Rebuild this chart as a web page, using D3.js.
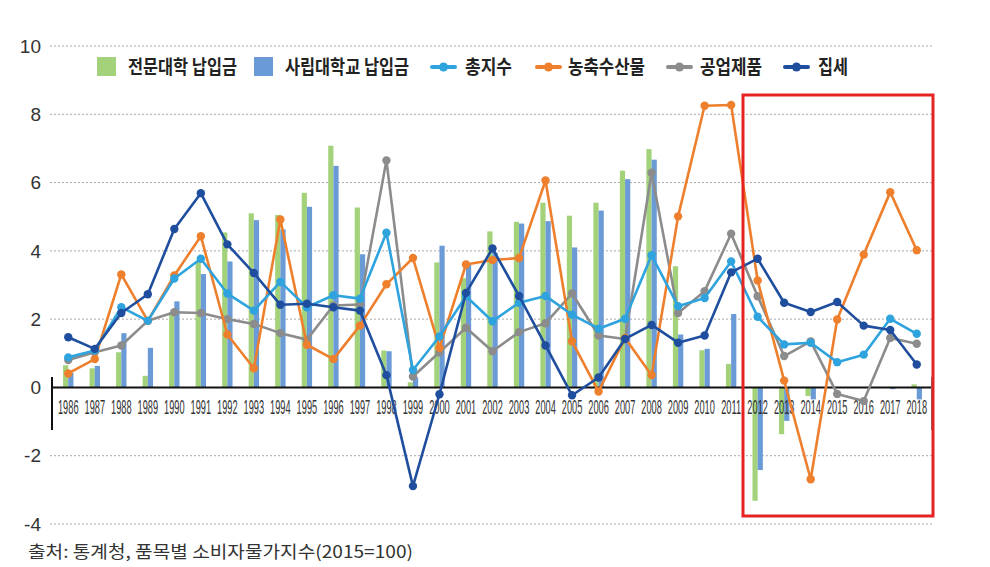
<!DOCTYPE html>
<html><head><meta charset="utf-8">
<script src="https://cdn.jsdelivr.net/npm/d3@7"></script>
<style>body{margin:0;background:#fff}svg{display:block}</style>
</head><body>
<svg id="c" width="990" height="567"></svg>
<script>
const years = d3.range(1986, 2019).map(String);
const yTicks = [-4, -2, 0, 2, 4, 6, 8, 10];
const barNames = ["전문대학 납입금", "사립대학교 납입금"];
const lineNames = ["총지수", "농축수산물", "공업제품", "집세"];
const college = [0.65,0.56,1.03,0.34,2.2,3.69,4.54,5.1,5.05,5.7,7.08,5.27,1.08,0.15,3.66,3.2,4.57,4.85,5.41,5.03,5.41,6.35,6.98,3.55,1.09,0.69,-3.32,-1.37,-0.25,0,0,0,0.09];
const univ = [0.43,0.63,1.59,1.16,2.52,3.32,3.69,4.9,4.63,5.29,6.49,3.9,1.06,0.3,4.15,3.6,3.95,4.8,4.87,4.1,5.18,6.1,6.67,1.55,1.13,2.15,-2.42,-0.98,-0.35,0,0,-0.05,-0.35];
const total = [0.88,1.08,2.35,1.95,3.19,3.77,2.75,2.25,3.09,2.35,2.7,2.6,4.53,0.51,1.49,2.67,1.94,2.48,2.68,2.13,1.72,2.01,3.87,2.38,2.62,3.69,2.07,1.26,1.31,0.74,0.96,2.01,1.57];
const agri = [0.41,0.83,3.31,1.95,3.28,4.43,1.55,0.56,4.92,1.25,0.83,1.81,3.02,3.79,1.16,3.6,3.73,3.79,6.06,1.35,-0.12,1.45,0.36,5.01,8.25,8.27,3.13,0.2,-2.69,1.99,3.89,5.72,4.02];
const industry = [0.8,1.03,1.23,1.95,2.2,2.18,2.0,1.86,1.59,1.4,2.4,2.43,6.65,0.32,1.03,1.75,1.06,1.62,1.88,2.75,1.52,1.42,6.29,2.18,2.82,4.5,2.67,0.92,1.35,-0.19,-0.4,1.45,1.28];
const rent = [1.47,1.13,2.18,2.73,4.64,5.69,4.19,3.35,2.42,2.45,2.35,2.25,0.36,-2.89,-0.2,2.77,4.07,2.68,1.23,-0.23,0.29,1.42,1.83,1.31,1.52,3.37,3.77,2.48,2.21,2.5,1.81,1.68,0.67];
const sourceText = "출처: 통계청, 품목별 소비자물가지수(2015=100)";

const barColors = ["#a3d27a", "#6b9bd6"];
const lineColors = ["#2ea3de", "#ee7f2d", "#8c8c8c", "#1f4e9e"];

const svg = d3.select("#c");
const x = d3.scaleBand().domain(years).range([55, 930]).padding(0);
const y = d3.scaleLinear().domain([-4, 10]).range([524, 46]);
const kfont = "'Noto Sans CJK KR', 'Noto Sans', sans-serif";
const cx = d => x(d) + x.bandwidth() / 2;

// gridlines
svg.append("g").selectAll("line").data(yTicks.filter(d => d !== 0)).join("line")
  .attr("x1", 50).attr("x2", 934)
  .attr("y1", d => y(d)).attr("y2", d => y(d))
  .attr("stroke", "#a8a8a8").attr("stroke-width", 1).attr("stroke-dasharray", "2,2");

// y tick labels
svg.append("g").selectAll("text").data(yTicks).join("text")
  .attr("x", 41).attr("y", d => y(d)).attr("dy", "0.35em")
  .attr("text-anchor", "end")
  .attr("font-family", "'Liberation Sans', Arial, sans-serif")
  .attr("font-size", 19).attr("fill", "#333")
  .text(d => d);

// bars
const barData = [college, univ];
const bw = 5.2;
barData.forEach((arr, i) => {
  svg.append("g").selectAll("rect").data(arr.map((v, j) => ({v, yr: years[j]}))).join("rect")
    .attr("x", d => cx(d.yr) - bw + i * bw)
    .attr("width", bw)
    .attr("y", d => Math.min(y(d.v), y(0)))
    .attr("height", d => Math.abs(y(d.v) - y(0)))
    .attr("fill", barColors[i]);
});

// x axis
svg.append("line").attr("x1", 52).attr("x2", 932).attr("y1", y(0)).attr("y2", y(0))
  .attr("stroke", "#111").attr("stroke-width", 2);
svg.append("line").attr("x1", 52).attr("x2", 52).attr("y1", 377).attr("y2", 430)
  .attr("stroke", "#111").attr("stroke-width", 2);
svg.append("line").attr("x1", 932).attr("x2", 932).attr("y1", 377).attr("y2", 430)
  .attr("stroke", "#777").attr("stroke-width", 2);
svg.append("g").selectAll("text").data(years).join("text")
  .attr("transform", d => `translate(${cx(d)},407) scale(0.44,1)`)
  .attr("dy", "0.35em")
  .attr("text-anchor", "middle")
  .attr("font-family", "'Liberation Sans', Arial, sans-serif")
  .attr("font-size", 21).attr("fill", "#333")
  .text(d => d);

// lines
const lineData = [total, agri, industry, rent];
const lineGen = d3.line().x((d, j) => cx(years[j])).y(d => y(d));
const drawOrder = [2, 1, 0, 3];
drawOrder.forEach(i => {
  const g = svg.append("g");
  g.append("path").datum(lineData[i]).attr("d", lineGen)
    .attr("fill", "none").attr("stroke", lineColors[i]).attr("stroke-width", 2.6)
    .attr("stroke-linejoin", "round");
  g.selectAll("circle").data(lineData[i]).join("circle")
    .attr("cx", (d, j) => cx(years[j])).attr("cy", d => y(d))
    .attr("r", 4.2).attr("fill", lineColors[i]);
});

// legend
const leg = svg.append("g");
const barLeg = [{sx: 97, tx: 128, tl: 109}, {sx: 254, tx: 285, tl: 124}];
barLeg.forEach((p, i) => {
  leg.append("rect").attr("x", p.sx).attr("y", 57).attr("width", 19).attr("height", 19).attr("fill", barColors[i]);
  leg.append("text").attr("x", p.tx).attr("y", 67).attr("dy", "0.36em")
    .attr("font-family", kfont).attr("font-weight", 700).attr("font-size", 19).attr("fill", "#222")
    .attr("textLength", p.tl).attr("lengthAdjust", "spacingAndGlyphs").text(barNames[i]);
});
const lineLeg = [{sx: 432, tx: 465, tl: 47}, {sx: 537, tx: 568, tl: 77}, {sx: 668, tx: 700, tl: 62}, {sx: 785, tx: 818, tl: 30}];
lineLeg.forEach((p, i) => {
  leg.append("line").attr("x1", p.sx).attr("x2", p.sx + 23).attr("y1", 67).attr("y2", 67)
    .attr("stroke", lineColors[i]).attr("stroke-width", 4).attr("stroke-linecap", "round");
  leg.append("circle").attr("cx", p.sx + 11.5).attr("cy", 67).attr("r", 4.5).attr("fill", lineColors[i]);
  leg.append("text").attr("x", p.tx).attr("y", 67).attr("dy", "0.36em")
    .attr("font-family", kfont).attr("font-weight", 700).attr("font-size", 19).attr("fill", "#222")
    .attr("textLength", p.tl).attr("lengthAdjust", "spacingAndGlyphs").text(lineNames[i]);
});

// highlight box
svg.append("rect").attr("x", 743).attr("y", 95)
  .attr("width", 190).attr("height", 421)
  .attr("fill", "none").attr("stroke", "#e52421").attr("stroke-width", 3);

// source
svg.append("text").attr("x", 28).attr("y", 552).attr("dy", "0.36em")
  .attr("font-family", kfont).attr("font-size", 17).attr("fill", "#333")
  .attr("textLength", 385).attr("lengthAdjust", "spacingAndGlyphs")
  .text(sourceText);
</script>
</body></html>
